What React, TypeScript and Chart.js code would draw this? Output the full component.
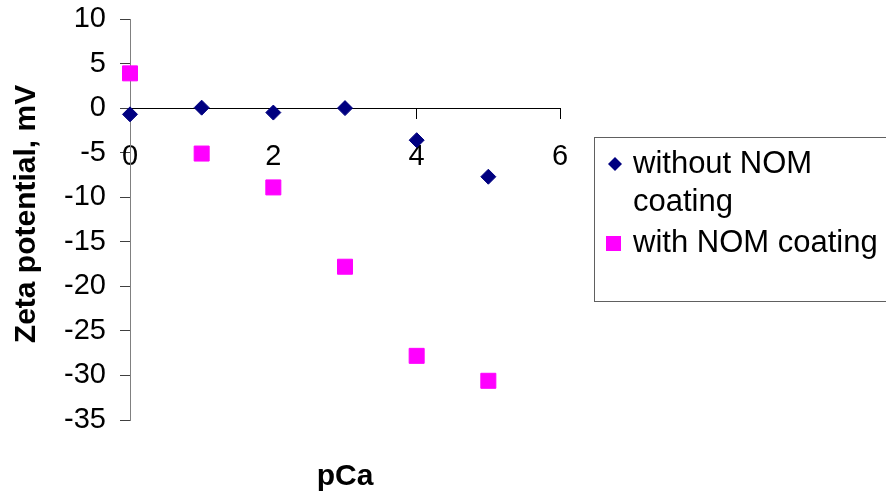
import React, { useEffect, useRef } from "react";
import { Chart, registerables } from "chart.js";

Chart.register(...registerables);

const pCaValues = [0, 1, 2, 3, 4, 5];
const withoutNOM = [-0.7, 0.05, -0.5, 0.0, -3.6, -7.7];
const withNOM = [3.9, -5.1, -8.9, -17.8, -27.8, -30.6];
const seriesLabels = ["without NOM coating", "with NOM coating"];
const legendLines = [["without NOM", "coating"], ["with NOM coating"]];
const xTitle = "pCa";
const yTitle = "Zeta potential, mV";

const FONT = "'Liberation Sans', Arial, sans-serif";
const NAVY = "#000080";
const MAGENTA = "#FF00FF";

const decorPlugin = {
  id: "decor",
  afterDraw(chart: any) {
    const ctx = chart.ctx as CanvasRenderingContext2D;
    const area = chart.chartArea;
    ctx.save();
    // axis titles
    ctx.fillStyle = "#000";
    ctx.font = `bold 30px ${FONT}`;
    ctx.textAlign = "center";
    ctx.textBaseline = "alphabetic";
    ctx.fillText(xTitle, (area.left + area.right) / 2, 485);
    ctx.save();
    ctx.translate(35, 214);
    ctx.rotate(-Math.PI / 2);
    ctx.fillText(yTitle, 0, 0);
    ctx.restore();

    // legend box
    ctx.strokeStyle = "#606060";
    ctx.lineWidth = 1;
    ctx.strokeRect(594.5, 137.5, 400, 164);
    // diamond
    ctx.fillStyle = NAVY;
    ctx.beginPath();
    ctx.moveTo(615, 157);
    ctx.lineTo(622, 164);
    ctx.lineTo(615, 171);
    ctx.lineTo(608, 164);
    ctx.closePath();
    ctx.fill();
    // square
    ctx.fillStyle = MAGENTA;
    ctx.fillRect(606, 236, 15, 15);
    // text
    ctx.fillStyle = "#000";
    ctx.font = `31px ${FONT}`;
    ctx.textAlign = "left";
    ctx.textBaseline = "alphabetic";
    ctx.fillText(legendLines[0][0], 633, 173);
    ctx.fillText(legendLines[0][1], 633, 211);
    ctx.fillText(legendLines[1][0], 633, 252);
    ctx.restore();
  },
};

export default function App() {
  const ref = useRef<HTMLCanvasElement>(null);
  useEffect(() => {
    const canvas = ref.current;
    if (!canvas) return;
    const chart = new Chart(canvas, {
      type: "scatter",
      data: {
        datasets: [
          {
            label: seriesLabels[0],
            data: pCaValues.map((x, i) => ({ x, y: withoutNOM[i] })),
            pointStyle: "rectRot",
            pointRadius: 7.5,
            pointBorderWidth: 1,
            backgroundColor: NAVY,
            borderColor: NAVY,
            clip: false as any,
          },
          {
            label: seriesLabels[1],
            data: pCaValues.map((x, i) => ({ x, y: withNOM[i] })),
            pointStyle: "rect",
            pointRadius: 10.6,
            pointBorderWidth: 1,
            backgroundColor: MAGENTA,
            borderColor: MAGENTA,
            clip: false as any,
          },
        ],
      },
      options: {
        responsive: false,
        animation: false,
        events: [],
        layout: { padding: { top: 19, right: 326, bottom: 77, left: 0 } },
        plugins: { legend: { display: false }, tooltip: { enabled: false } },
        scales: {
          x: {
            type: "linear",
            position: { y: 0 } as any,
            min: 0,
            max: 6,
            ticks: {
              stepSize: 2,
              color: "#000",
              padding: 21,
              font: { family: FONT, size: 29 },
            },
            grid: {
              drawOnChartArea: false,
              drawTicks: true,
              tickLength: 10,
              color: "#000",
            },
            border: { color: "#000", width: 1 },
            afterFit: (s: any) => {
              s.paddingLeft = 0;
              s.paddingRight = 0;
            },
          },
          y: {
            type: "linear",
            position: "left",
            min: -35,
            max: 10,
            ticks: {
              stepSize: 5,
              color: "#000",
              padding: 14,
              font: { family: FONT, size: 29 },
            },
            grid: {
              drawOnChartArea: false,
              drawTicks: true,
              tickLength: 10,
              color: "#404040",
            },
            border: { color: "#808080", width: 1 },
            afterFit: (s: any) => {
              s.width = 130;
              s.paddingTop = 0;
              s.paddingBottom = 0;
            },
          },
        },
      },
      plugins: [decorPlugin],
    });
    return () => chart.destroy();
  }, []);
  return (
    <canvas
      ref={ref}
      width={886}
      height={497}
      style={{ position: "absolute", left: 0, top: 0 }}
    />
  );
}
